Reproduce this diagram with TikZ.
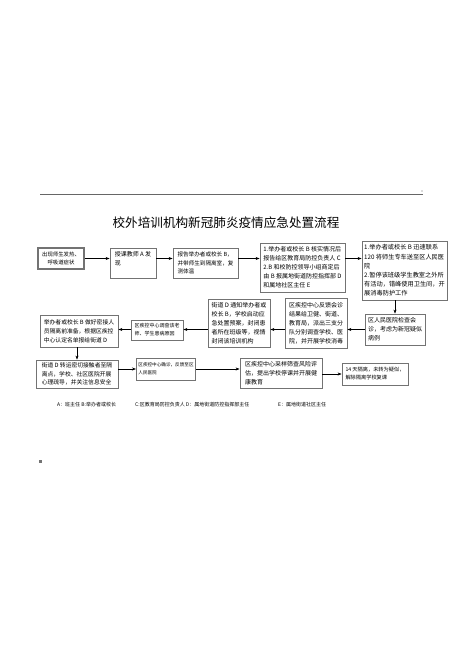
\documentclass[tikz,border=0pt]{standalone}
\usepackage{fontspec}
\newfontfamily\cjk{Noto Sans CJK SC}
\usetikzlibrary{arrows.meta}
\tikzset{
    >={Stealth[length=4pt,width=3pt]},
    flow/.style={
        stage/.append style={draw=black!55,line width=.8pt,align=left,inner sep=2pt,font=\cjk\fontsize{6}{9}\selectfont},
        start/.append style={line width=1.4pt,align=center},
        note/.append style={inner sep=0pt,anchor=west,font=\cjk\fontsize{5}{6}\selectfont},
        every edge/.append style={draw,->,line width=.6pt}
    }
}

\begin{document}
\begin{tikzpicture}[flow,x=1pt,y=-1pt]
    \useasboundingbox (0,0) rectangle (463,655);
    % page header
    \coordinate (hl) at (40,194);
    \coordinate (hr) at (423,194);
    \draw[black!60,line width=.8pt] (hl) -- (hr);
    \fill[black!60] (422,191) circle (.7);
    \fill[black!55] (39,460) rectangle (41.5,462.5);
    \node[font=\cjk\fontsize{12.6}{14}\selectfont] (title) at (226,223) {校外培训机构新冠肺炎疫情应急处置流程};

    % first row
    \node[stage,start,minimum width=46,minimum height=21,font=\cjk\fontsize{5.4}{8}\selectfont] (b1) at (61,258.5) {出现师生发热、\\呼吸道症状};
    \node[stage,minimum width=46,minimum height=30,anchor=north] (b2) at (133,248) {授课教师 A 发\\现\\[1pt]};
    \node[stage,minimum width=65,minimum height=30,font=\cjk\fontsize{5.6}{8.6}\selectfont] (b3) at (205.5,263) {报告举办者或校长 B，\\并带师生到隔离室，复\\测体温};
    \node[stage,minimum width=85,minimum height=49] (b4) at (302.5,267.5) {1.举办者或校长 B 核实情况后\\报告给区教育局防控负责人 C\\2.B 和校防控领导小组商定后\\由 B 报属地街道防控指挥部 D\\和属地社区主任 E};
    \node[stage,minimum width=85,minimum height=59,font=\cjk\fontsize{6.2}{9.2}\selectfont] (b5) at (404.5,270.5) {1.举办者或校长 B 迅速联系\\120 将师生专车送至区人民医\\院\\2.暂停该班级学生教室之外所\\有活动，错峰使用卫生间，开\\展消毒防护工作};

    % second row
    \node[stage,minimum width=60,minimum height=31] (b6) at (395,329.5) {区人民医院检查会\\诊，考虑为新冠疑似\\病例};
    \node[stage,minimum width=62,minimum height=50] (b7) at (316,323) {区疾控中心反馈会诊\\结果给卫健、街道、\\教育局，派出三支分\\队分别调查学校、医\\院，并开展学校消毒};
    \node[stage,minimum width=62,minimum height=48] (b8) at (239,323) {街道 D 通知举办者或\\校长 B，学校启动应\\急处置预案，封闭患\\者所在班级等，视情\\封闭该培训机构};
    \node[stage,minimum width=52,minimum height=20,font=\cjk\fontsize{5}{8}\selectfont] (b9) at (157,330) {区疾控中心调查该老\\师、学生患病原因};
    \node[stage,minimum width=78,minimum height=32,font=\cjk\fontsize{5.8}{9}\selectfont] (b10) at (79,331) {举办者或校长 B 做好密接人\\员隔离前准备，根据区疾控\\中心认定名单报给街道 D};

    % third row
    \node[stage,minimum width=82,minimum height=28,font=\cjk\fontsize{5.8}{8.6}\selectfont] (b11) at (77,374) {街道 D 转运密切接触者至隔\\离点，学校、社区医院开展\\心理疏导，并关注信息安全};
    \node[stage,minimum width=58,minimum height=22,font=\cjk\fontsize{4.6}{8}\selectfont] (b12) at (166,369) {区疾控中心确诊，反馈至区\\人民医院};
    \node[stage,minimum width=82,minimum height=30] (b13) at (281,373) {区疾控中心采样筛查风险评\\估，提出学校停课并开展健\\康教育};
    \node[stage,minimum width=66,minimum height=22,font=\cjk\fontsize{5.2}{8}\selectfont] (b14) at (375,374) {14 天隔离，未转为疑似，\\解除隔离学校复课};

    % connectors
    \path (b1.east) edge (b2.west |- b1.east)
          (b2.east |- b1.east) edge (b3.west |- b1.east)
          (b3.east |- b1.east) edge (b4.west |- b1.east)
          (b4.east |- b1.east) edge (b5.west |- b1.east)
          (b6.north |- b5.south) edge (b6.north)
          (b6.west) edge (b7.east |- b6.west)
          (b7.west |- b6.west) edge (b8.east |- b6.west)
          (b8.west |- b6.west) edge (b9.east |- b6.west)
          (b9.west |- b6.west) edge (b10.east |- b6.west)
          (b11.north |- b10.south) edge (b11.north)
          (b11.east |- b12.west) edge (b12.west)
          (b12.east) edge (b13.west |- b12.east)
          (b13.east |- b14.west) edge (b14.west);

    % legend
    \node[note] (fnA) at (57,405) {A：班主任 B:举办者或校长};
    \node[note] (fnC) at (135,405) {C:区教育局防控负责人 D：属地街道防控指挥部主任};
    \node[note] (fnE) at (278,405) {E：属地街道社区主任};
\end{tikzpicture}
\end{document}
